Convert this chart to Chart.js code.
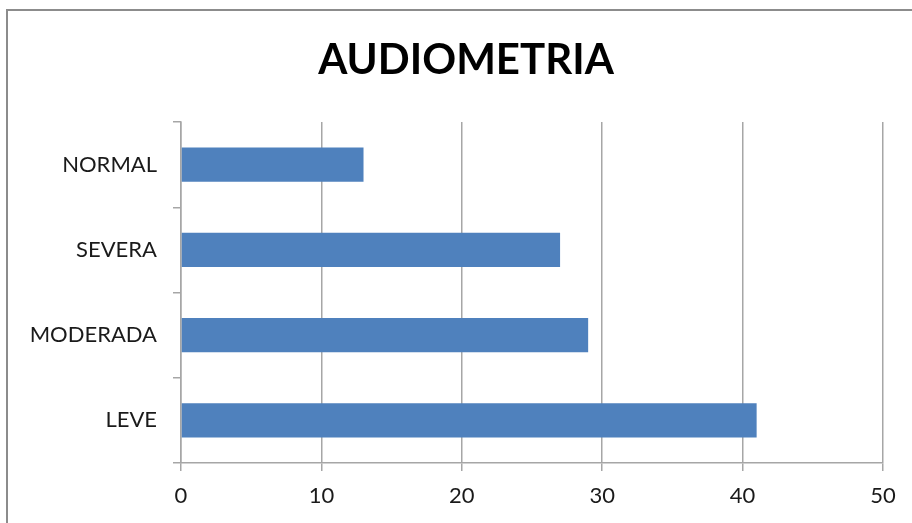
<!DOCTYPE html>
<html>
<head>
<meta charset="utf-8">
<script src="https://cdn.jsdelivr.net/npm/chart.js@4"></script>
<style>
    html, body { margin: 0; padding: 0; background: #ffffff; overflow: hidden; }
    #wrap { position: relative; width: 912px; height: 523px; }
    #frame {
        position: absolute; left: 6px; top: 9px; width: 1000px; height: 600px;
        border-left: 2px solid #8c8c8c; border-top: 2px solid #8c8c8c;
    }
    canvas { position: absolute; left: 0; top: 0; }
</style>
</head>
<body>
<div id="wrap">
    <div id="frame"></div>
    <canvas id="chart" width="912" height="523"></canvas>
</div>
<script>
// Audiometria - horizontal bar chart

const categories = ['NORMAL', 'SEVERA', 'MODERADA', 'LEVE'];
const values = [13, 27, 29, 41];
const xTicks = [0, 10, 20, 30, 40, 50];

const fontFamily = 'Lato, "Open Sans", sans-serif';
const gridColor = '#a6a6a6';

// nudge the title block so it is centred over the whole frame, like the original
const titleShift = {
    id: 'titleShift',
    afterLayout(chart) {
        if (chart.titleBlock) {
            chart.titleBlock.left = 49;
        }
    }
};

const ctx = document.getElementById('chart').getContext('2d');

new Chart(ctx, {
    type: 'bar',
    data: {
        labels: categories,
        datasets: [{
            label: 'AUDIOMETRIA',
            data: values,
            backgroundColor: '#4f81bd',
            borderWidth: 0,
            barPercentage: 0.4,
            categoryPercentage: 1.0
        }]
    },
    options: {
        indexAxis: 'y',
        responsive: false,
        animation: false,
        layout: {
            padding: { left: 0, right: 29, top: 0, bottom: 0 }
        },
        plugins: {
            legend: { display: false },
            tooltip: { enabled: false },
            title: {
                display: true,
                text: 'AUDIOMETRIA',
                color: '#000000',
                font: { family: fontFamily, size: 42, weight: 'bold', lineHeight: 1.2 },
                padding: { top: 35, bottom: 36.6 }
            }
        },
        scales: {
            x: {
                min: 0,
                max: 50,
                afterBuildTicks: function(axis) {
                    axis.ticks = xTicks.map(v => ({ value: v }));
                },
                afterFit: function(axis) {
                    axis.height = 60;
                },
                grid: {
                    color: gridColor,
                    lineWidth: 1.5,
                    tickLength: 8
                },
                border: { color: gridColor, width: 1.5 },
                ticks: {
                    color: '#1a1a1a',
                    padding: 12,
                    font: { family: fontFamily, size: 22 }
                }
            },
            y: {
                afterFit: function(axis) {
                    axis.width = 181;
                },
                grid: {
                    drawOnChartArea: false,
                    color: gridColor,
                    lineWidth: 1.5,
                    tickLength: 8
                },
                border: { color: gridColor, width: 1.5 },
                ticks: {
                    color: '#1a1a1a',
                    padding: 16,
                    font: { family: fontFamily, size: 22 }
                }
            }
        }
    },
    plugins: [titleShift]
});
</script>
</body>
</html>
